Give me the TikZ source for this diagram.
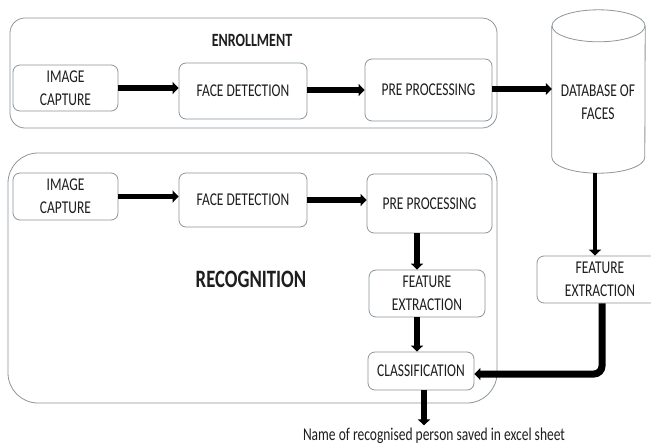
\documentclass[tikz,border=0pt]{standalone}
\usepackage{fontspec}
\setmainfont{Carlito}[FakeStretch=0.75]
\usetikzlibrary{arrows.meta}
\definecolor{boxgray}{RGB}{140,150,155}
\definecolor{txt}{RGB}{30,30,30}
\begin{document}
\begin{tikzpicture}[x=1pt,y=-1pt,
  box/.style={draw=boxgray, line width=0.8pt, rounded corners=7pt, align=center,
    inner sep=0pt, text=txt, font=\fontsize{18}{23}\selectfont},
  group/.style={draw=boxgray, line width=0.8pt, inner sep=0pt},
  lbl/.style={text=txt, inner sep=0pt, align=center, font=\fontsize{18}{23}\selectfont},
  arr/.style={draw=black, line width=5.5pt, -{Triangle[length=6pt,width=12pt]}},
  cyl/.style={draw=boxgray, line width=0.8pt}]
\clip (0,0) rectangle (651,445);
\fill[white] (0,0) rectangle (651,445);
% group containers
\node[group, rounded corners=15pt, minimum width=487pt, minimum height=110pt] (enr) at (253.5,73) {};
\node[group, rounded corners=30pt, minimum width=489pt, minimum height=250pt] (rec) at (252.5,278) {};
\node[lbl, font=\bfseries\fontsize{18.7}{20}\selectfont] (enrt) at (252,40) {ENROLLMENT};
\node[lbl, font=\bfseries\fontsize{25}{27}\selectfont] (rect) at (251,279) {RECOGNITION};
% enrollment
\node[box, minimum width=105pt, minimum height=46pt] (ic1) at (65.5,88) {IMAGE\\CAPTURE};
\node[box, minimum width=128pt, minimum height=56pt] (fd1) at (243,91) {FACE DETECTION};
\node[box, minimum width=127pt, minimum height=62pt] (pp1) at (428.5,90) {PRE PROCESSING};
% database
\node[inner sep=0pt, minimum width=93pt, minimum height=163pt] (db) at (598.5,91.5) {};
\draw[cyl] ([yshift=-16pt]db.north west) -- ([yshift=16pt]db.south west)
  arc[start angle=180, end angle=360, x radius=46.5pt, y radius=16pt]
  -- ([yshift=-16pt]db.north east);
\draw[cyl] ([yshift=-16pt]db.north) ellipse [x radius=46.5pt, y radius=16pt];
\node[lbl] (dbt) at (598,102) {DATABASE OF\\FACES};
% recognition
\node[box, minimum width=105pt, minimum height=47pt] (ic2) at (65.5,196.5) {IMAGE\\CAPTURE};
\node[box, minimum width=128pt, minimum height=54pt] (fd2) at (243,200) {FACE DETECTION};
\node[box, minimum width=125pt, minimum height=59pt] (pp2) at (429.5,203.5) {PRE PROCESSING};
\node[box, minimum width=116pt, minimum height=47pt] (fe2) at (427,293.5) {FEATURE\\EXTRACTION};
\node[box, minimum width=106pt, minimum height=38pt] (cls) at (421,371) {CLASSIFICATION};
\node[box, minimum width=126pt, minimum height=47pt] (fe3) at (600,279.5) {FEATURE\\EXTRACTION};
\node[lbl, font=\fontsize{18}{20}\selectfont] (out) at (434,436) {Name of recognised person saved in excel sheet};
% arrows enrollment
\draw[arr] (ic1.east) -- (ic1.east -| fd1.west);
\draw[arr] ([yshift=1pt]fd1.east) -- ([yshift=1pt]fd1.east -| pp1.west);
\draw[arr] ([yshift=1pt]pp1.east) -- ([yshift=1pt]pp1.east -| db.west);
% arrows recognition
\draw[arr] (ic2.east) -- (ic2.east -| fd2.west);
\draw[arr] (fd2.east) -- (fd2.east -| pp2.west);
\draw[arr] ([xshift=-12.5pt]pp2.south) -- ([xshift=-12.5pt]pp2.south |- fe2.north);
\draw[arr] ([xshift=-10pt]fe2.south) -- ([xshift=-10pt]fe2.south |- cls.north);
\draw[arr] ([xshift=3pt]cls.south) -- ([xshift=3pt,yshift=-35pt]cls.south);
\draw[arr, line width=4pt] ([xshift=-3.5pt]db.south) -- ([xshift=-3.5pt]db.south |- fe3.north);
\draw[arr, line width=7pt, rounded corners=8pt] ([xshift=2pt]fe3.south) |- ([yshift=-3pt]cls.east);
\end{tikzpicture}
\end{document}
